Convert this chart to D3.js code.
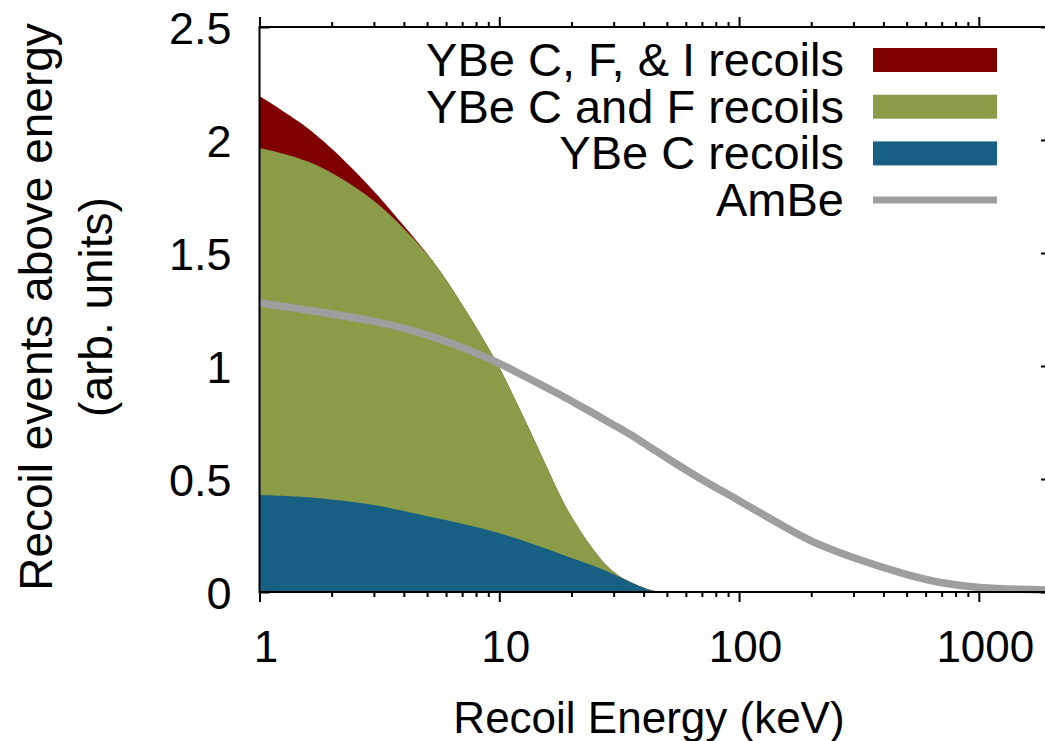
<!DOCTYPE html>
<html>
<head>
<meta charset="utf-8">
<script src="https://cdnjs.cloudflare.com/ajax/libs/d3/7.8.5/d3.min.js"></script>
<style>
    body { margin: 0; background: #fff; }
    text { font-family: "Liberation Sans", Arial, Helvetica, sans-serif; fill: #000; }
    .tick line { stroke: #000; stroke-width: 2; }
</style>
</head>
<body>
<svg width="1045" height="741"></svg>
<script>
// energies (keV) shared by every series
var energies = [1, 1.5, 2, 3, 4, 5, 6, 8, 10, 12, 15, 18, 20, 25, 30, 35, 40, 45, 50, 70, 100, 150, 200, 300, 500, 700, 1000, 1500, 2000];

// YBe C, F & I recoils (top of the stack)
var ybeCFI = [2.195, 2.077, 1.966, 1.778, 1.619, 1.50, 1.385, 1.175, 1.00, 0.823, 0.606, 0.42, 0.33, 0.173, 0.082, 0.045, 0.018, 0, 0, 0, 0, 0, 0, 0, 0, 0, 0, 0, 0];
// YBe C and F recoils
var ybeCF = [1.965, 1.92, 1.86, 1.74, 1.61, 1.50, 1.385, 1.175, 1.00, 0.823, 0.606, 0.42, 0.33, 0.173, 0.082, 0.045, 0.018, 0, 0, 0, 0, 0, 0, 0, 0, 0, 0, 0, 0];
// YBe C recoils
var ybeC = [0.429, 0.422, 0.41, 0.387, 0.358, 0.336, 0.319, 0.288, 0.261, 0.235, 0.199, 0.168, 0.150, 0.115, 0.080, 0.044, 0.018, 0, 0, 0, 0, 0, 0, 0, 0, 0, 0, 0, 0];
// AmBe
var ambe = [1.279, 1.252, 1.23, 1.20, 1.168, 1.137, 1.11, 1.058, 1.013, 0.969, 0.916, 0.872, 0.845, 0.788, 0.739, 0.699, 0.659, 0.624, 0.593, 0.496, 0.405, 0.296, 0.221, 0.150, 0.075, 0.038, 0.018, 0.011, 0.009];

var xMajor = [1, 10, 100, 1000];
var yMajor = [0, 0.5, 1, 1.5, 2, 2.5];

var legendNames = ["YBe C, F, & I recoils", "YBe C and F recoils", "YBe C recoils", "AmBe"];
var colors = ["#7f0000", "#8b9c48", "#176083", "#9e9e9e"];

var svg = d3.select("svg");

var x = d3.scaleLog().domain([1, 2000]).range([259.5, 1051]);
var y = d3.scaleLinear().domain([0, 2.5]).range([592, 27]);

// minor x ticks 2..9 of every decade
var xMinor = [];
[1, 10, 100, 1000].forEach(function (d) {
    for (var k = 2; k <= 9; k++) if (d * k <= 2000) xMinor.push(d * k);
});

// left y ticks point inward, they end up hidden under the fills
svg.append("g")
    .attr("transform", "translate(" + x(1) + ",0)")
    .call(d3.axisRight(y).tickValues(yMajor).tickSize(10).tickSizeOuter(0).tickFormat(""))
    .call(function (g) { g.select(".domain").remove(); });

// filled areas, widest first
function rows(vals) {
    return energies.map(function (e, i) { return [e, vals[i]]; });
}
var area = d3.area()
    .x(function (d) { return x(d[0]); })
    .y0(y(0))
    .y1(function (d) { return y(d[1]); })
    .curve(d3.curveBasis);

[ybeCFI, ybeCF, ybeC].forEach(function (s, i) {
    svg.append("path")
        .attr("d", area(rows(s)))
        .attr("fill", colors[i]);
});

var line = d3.line()
    .x(function (d) { return x(d[0]); })
    .y(function (d) { return y(d[1]); })
    .curve(d3.curveBasis);

svg.append("path")
    .attr("d", line(rows(ambe)))
    .attr("fill", "none")
    .attr("stroke", colors[3])
    .attr("stroke-width", 7.5);

// border
svg.append("rect")
    .attr("x", x(1)).attr("y", y(2.5))
    .attr("width", x(2000) - x(1)).attr("height", y(0) - y(2.5))
    .attr("fill", "none")
    .attr("stroke", "#000")
    .attr("stroke-width", 2);

// x ticks, outward on bottom and top
function noDomain(g) { g.select(".domain").remove(); }

svg.append("g")
    .attr("transform", "translate(0," + y(0) + ")")
    .call(d3.axisBottom(x).tickValues(xMinor).tickSize(5).tickSizeOuter(0).tickFormat(""))
    .call(noDomain);
var xb = svg.append("g")
    .attr("transform", "translate(0," + y(0) + ")")
    .call(d3.axisBottom(x).tickValues(xMajor).tickSize(10).tickSizeOuter(0).tickPadding(29)
        .tickFormat(d3.format("d")))
    .call(noDomain);
xb.selectAll("text").attr("font-size", 44).attr("dx", 6);

svg.append("g")
    .attr("transform", "translate(0," + y(2.5) + ")")
    .call(d3.axisTop(x).tickValues(xMinor).tickSize(5).tickSizeOuter(0).tickFormat(""))
    .call(noDomain);
svg.append("g")
    .attr("transform", "translate(0," + y(2.5) + ")")
    .call(d3.axisTop(x).tickValues(xMajor).tickSize(10).tickSizeOuter(0).tickFormat(""))
    .call(noDomain);

// y labels on the left, inward ticks on the right border
var yl = svg.append("g")
    .attr("transform", "translate(" + x(1) + ",0)")
    .call(d3.axisLeft(y).tickValues(yMajor).tickSize(0).tickPadding(28).tickFormat(d3.format("")))
    .call(noDomain);
yl.selectAll("text").attr("font-size", 45).attr("dy", "0.36em");

svg.append("g")
    .attr("transform", "translate(" + x(2000) + ",0)")
    .call(d3.axisLeft(y).tickValues(yMajor).tickSize(10).tickSizeOuter(0).tickFormat(""))
    .call(noDomain);

// axis titles
svg.append("text")
    .attr("x", 649).attr("y", 733)
    .attr("font-size", 44)
    .style("text-anchor", "middle")
    .text("Recoil Energy (keV)");

var yt = svg.append("text")
    .attr("transform", "translate(52,307) rotate(-90)")
    .attr("font-size", 46)
    .style("text-anchor", "middle");
yt.append("tspan").attr("x", 0).attr("y", 0).text("Recoil events above energy");
yt.append("tspan").attr("x", 0).attr("y", 60).text("(arb. units)");

// legend
var legend = svg.append("g").attr("class", "legend");
legendNames.forEach(function (name, i) {
    var cy = 60 + i * 46.7;
    legend.append("text")
        .attr("x", 844).attr("y", cy + 16)
        .attr("font-size", 47)
        .style("text-anchor", "end")
        .text(name);
    if (i < 3) {
        legend.append("rect")
            .attr("x", 873).attr("y", cy - 12)
            .attr("width", 124).attr("height", 24)
            .attr("fill", colors[i]);
    } else {
        legend.append("line")
            .attr("x1", 873).attr("x2", 997)
            .attr("y1", cy).attr("y2", cy)
            .attr("stroke", colors[i])
            .attr("stroke-width", 7);
    }
});
</script>
</body>
</html>
